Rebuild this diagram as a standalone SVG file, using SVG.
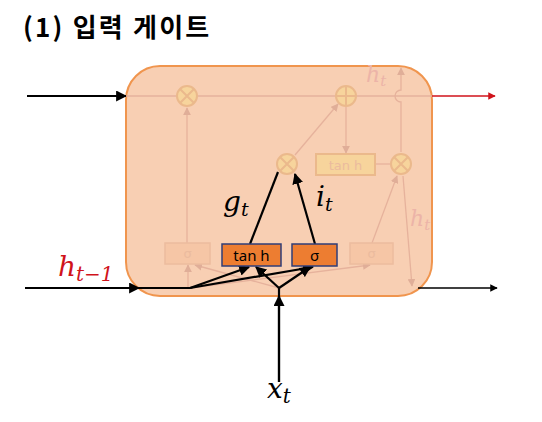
<svg xmlns="http://www.w3.org/2000/svg" width="542" height="422" viewBox="0 0 542 422">
<defs>
<marker id="ab" viewBox="0 0 10 10" refX="9" refY="5" markerWidth="5" markerHeight="5" orient="auto"><path d="M0,0 L10,5 L0,10 z" fill="#000"/></marker>
<marker id="ar" viewBox="0 0 10 10" refX="9" refY="5" markerWidth="5" markerHeight="5" orient="auto"><path d="M0,0 L10,5 L0,10 z" fill="#d0131b"/></marker>
<marker id="af" viewBox="0 0 10 10" refX="9" refY="5" markerWidth="6" markerHeight="6" orient="auto"><path d="M0,0 L10,5 L0,10 z" fill="#e0ae98"/></marker>
<style>
.title{font-family:"Noto Sans CJK KR","Noto Sans",sans-serif;font-weight:bold;font-size:26px;letter-spacing:2.2px;fill:#000}
.fl{stroke:#e6b29c;stroke-width:1.3;fill:none}
.fc{fill:#f7d49c;stroke:#ebb98c;stroke-width:2}
.fx{stroke:#ebb98c;stroke-width:2}
.fb{fill:#f6c6a6;stroke:#ecbc9e;stroke-width:1.5}
.ft{font-family:"DejaVu Sans",sans-serif;font-size:13px;fill:#ebbb9e;text-anchor:middle}
.fm{font-family:"DejaVu Serif",serif;font-style:italic;font-size:22px;fill:#ecb4a8}
.bl{stroke:#000;stroke-width:2.2;fill:none}
.ab{fill:#ed7d31;stroke:#2f3e78;stroke-width:1.5}
.at{font-family:"Noto Sans","Liberation Sans",sans-serif;font-size:15px;fill:#000;text-anchor:middle}
.m{font-family:"DejaVu Serif",serif;font-style:italic;font-size:28px;fill:#000}
</style>
</defs>
<text class="title" x="23" y="37">(1) 입력 게이트</text>
<g id="cell"><rect x="126" y="66" width="306" height="230" rx="34" fill="#f8cfb3" stroke="#f0954e" stroke-width="2"/></g>
<g id="connectors">
<line x1="27" y1="96" x2="126" y2="96" class="bl" stroke-width="1.5" marker-end="url(#ab)"/>
<line x1="432" y1="96" x2="495" y2="96" stroke="#d0131b" stroke-width="1.5" marker-end="url(#ar)"/>
<line x1="418" y1="288" x2="497" y2="288" stroke="#000" stroke-width="1.5" marker-end="url(#ab)"/>
<line x1="126" y1="96" x2="176" y2="96" class="fl"/>
<line x1="198" y1="96" x2="335" y2="96" class="fl"/>
<line x1="357" y1="96" x2="432" y2="96" class="fl"/>
<line x1="187" y1="243" x2="187" y2="108" class="fl" marker-end="url(#af)"/>
<line x1="295" y1="155" x2="338" y2="104" class="fl" marker-end="url(#af)"/>
<line x1="346" y1="107" x2="346" y2="153" class="fl" marker-end="url(#af)"/>
<line x1="375" y1="164" x2="390" y2="164" class="fl"/>
<path d="M401,152 L401,102 A6,6 0 0 1 401,90 L401,68" class="fl" marker-end="url(#af)"/>
<line x1="403" y1="176" x2="412" y2="286" class="fl" marker-end="url(#af)"/>
<line x1="372" y1="243" x2="397" y2="176" class="fl" marker-end="url(#af)"/>
<line x1="188" y1="288" x2="188" y2="265" class="fl" marker-end="url(#af)"/>
<line x1="190" y1="288" x2="370" y2="265" class="fl" marker-end="url(#af)"/>
<line x1="279" y1="288" x2="195" y2="265" class="fl" marker-end="url(#af)"/>
<line x1="25" y1="288" x2="190" y2="288" class="bl"/>
<line x1="25" y1="288" x2="139" y2="288" class="bl" marker-end="url(#ab)"/>
<line x1="190" y1="288" x2="249" y2="267" class="bl" marker-end="url(#ab)"/>
<line x1="190" y1="288" x2="313" y2="267" class="bl" marker-end="url(#ab)"/>
<line x1="279" y1="382" x2="279" y2="288" class="bl"/>
<line x1="279" y1="382" x2="279" y2="296" class="bl" marker-end="url(#ab)"/>
<line x1="279" y1="288" x2="256" y2="267" class="bl" marker-end="url(#ab)"/>
<line x1="279" y1="288" x2="310" y2="267" class="bl" marker-end="url(#ab)"/>
<line x1="250" y1="244" x2="278" y2="172" class="bl"/>
<line x1="315" y1="244" x2="295" y2="174" class="bl" marker-end="url(#ab)"/>
</g>
<g id="mul1"><circle cx="187" cy="96" r="10" class="fc"/><path d="M180,89 L194,103 M194,89 L180,103" class="fx"/></g>
<g id="add"><circle cx="346" cy="96" r="10" class="fc"/><path d="M336,96 L356,96 M346,86 L346,106" class="fx"/></g>
<g id="mul2"><circle cx="287" cy="164" r="10" class="fc"/><path d="M280,157 L294,171 M294,157 L280,171" class="fx"/></g>
<g id="mul3"><circle cx="401" cy="164" r="10" class="fc"/><path d="M394,157 L408,171 M408,157 L394,171" class="fx"/></g>
<g id="tanh2"><rect x="316" y="154" width="59" height="21" class="fc" stroke-width="2"/><text class="ft" x="345.5" y="170" font-size="14">tan h</text></g>
<g id="sig1"><rect x="165" y="243" width="45" height="21" class="fb"/><text class="ft" x="187.5" y="258">σ</text></g>
<g id="sig3"><rect x="350" y="243" width="43" height="21" class="fb"/><text class="ft" x="371.5" y="258">σ</text></g>
<g id="tanh"><rect x="222" y="244" width="59" height="22" class="ab"/><text class="at" x="251.5" y="260.5">tan h</text></g>
<g id="sig2"><rect x="292" y="244" width="45" height="22" class="ab"/><text class="at" x="314.5" y="260.5" font-size="16">σ</text></g>
<text class="fm" x="366" y="82">h<tspan font-size="15" dy="4">t</tspan></text>
<text class="fm" x="410" y="226">h<tspan font-size="15" dy="4">t</tspan></text>
<text class="m" x="223" y="211">g<tspan font-size="19" dy="5">t</tspan></text>
<text class="m" x="316" y="206">i<tspan font-size="19" dy="5">t</tspan></text>
<text class="m" x="58" y="276" style="fill:#d0131b">h<tspan font-size="20" dy="5">t−1</tspan></text>
<text class="m" x="267" y="398">x<tspan font-size="20" dy="5">t</tspan></text>
</svg>
